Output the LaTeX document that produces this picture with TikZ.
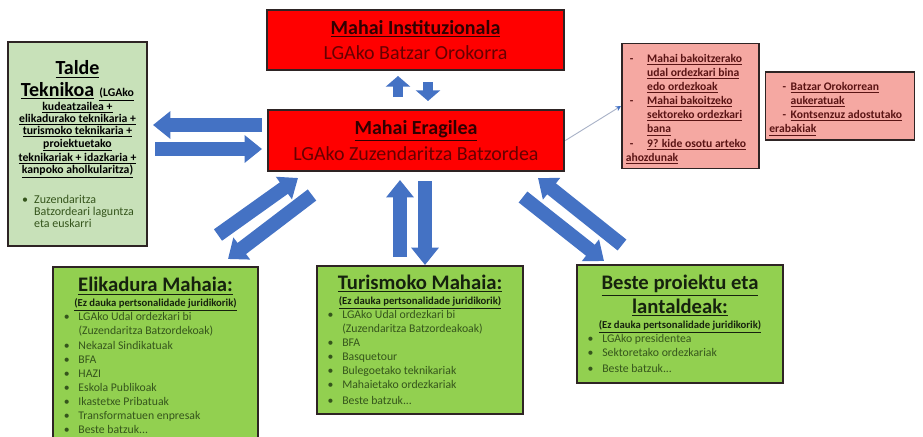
\documentclass[tikz,border=0pt]{standalone}
\usepackage{fontspec}
\setmainfont{Carlito}
\usetikzlibrary{arrows.meta}

\definecolor{boxred}{HTML}{FF0000}
\definecolor{boxline}{HTML}{2E2424}
\definecolor{redtitle}{HTML}{300000}
\definecolor{redsub}{HTML}{660000}
\definecolor{boxgreen}{HTML}{92D050}
\definecolor{lightgreen}{HTML}{C8E1B9}
\definecolor{boxpink}{HTML}{F5A8A2}
\definecolor{pinktext}{HTML}{5A1414}
\definecolor{itemgreen}{HTML}{35551C}
\definecolor{gtitle}{HTML}{16220E}
\definecolor{arrowblue}{HTML}{4472C4}
\definecolor{lineblue}{HTML}{AAB3C8}

% list lines
\newcommand{\normsp}{\spaceskip=0pt\xspaceskip=0pt\relax}
\newcommand{\gitem}[1]{\par\noindent\hangindent=15pt\hangafter=1\makebox[15pt][l]{\hspace{4pt}\textbullet}#1}
\newcommand{\pitem}[2][3pt]{\par\noindent\hangindent=16pt\hangafter=1\makebox[16pt][l]{\hspace{#1}-}#2}
\newcommand{\gtitle}{\fontsize{15.5}{18}\selectfont\bfseries}
\newcommand{\gsub}{\fontsize{8}{11}\selectfont\bfseries}
\newcommand{\gtext}{\fontsize{8.8}{10.6}\selectfont\color{itemgreen}}

\begin{document}
\begin{tikzpicture}[x=0.75pt,y=-0.75pt,
  redbox/.style={draw=boxline, line width=1.5pt, fill=boxred, align=center, text=redtitle,
    minimum width=222.5pt, minimum height=45.5pt, font=\fontsize{15}{19}\selectfont},
  greenbox/.style={draw=boxline, line width=1.2pt, fill=boxgreen, align=left, text=gtitle,
    text width=146.5pt, inner xsep=4pt, inner ysep=3pt},
  pinkbox/.style={draw=boxline, line width=1.2pt, fill=boxpink, align=left, text=pinktext,
    inner xsep=3pt, font=\fontsize{8.7}{10.6}\selectfont\bfseries},
  blockarrow/.style={draw=arrowblue, line width=10.5pt, -{Triangle[length=13pt,width=20pt]}},
  smallarrow/.style={draw=arrowblue, line width=7pt, -{Triangle[length=8pt,width=18pt]}}]

  \useasboundingbox (0,0) rectangle (923,436);
  \clip (0,0) rectangle (923,436);

  % red tables
  \node[redbox] (inst) at (415.5,40) {\textbf{\underline{Mahai Instituzionala}}\\\textcolor{redsub}{LGAko Batzar Orokorra}};
  \node[redbox] (erag) at (416,140.5) {\textbf{\underline{Mahai Eragilea}}\\\textcolor{redsub}{LGAko Zuzendaritza Batzordea}};

  % technical team
  \node[draw=boxline, line width=1.2pt, fill=lightgreen, text width=99pt, minimum height=153pt,
    align=center, inner xsep=2.5pt] (talde) at (77.5,144) {\normsp
    {\fontsize{15}{16}\selectfont\bfseries\underline{Talde}\par
     \underline{Teknikoa} {\fontsize{8.8}{9}\selectfont\underline{(LGAko}}\par}
    {\fontsize{8.8}{9.2}\selectfont\bfseries
     \underline{kudeatzailea +}\\\underline{elikadurako teknikaria +}\\\underline{turismoko teknikaria +}\\
     \underline{proiektuetako}\\\underline{teknikariak + idazkaria +}\\\underline{kanpoko aholkularitza)}\par}
    \vspace{12pt}
    {\raggedright\normsp\fontsize{9}{8.8}\selectfont\color{itemgreen}\noindent\hangindent=17pt\hangafter=1%
     \makebox[17pt][l]{\hspace{8pt}\textbullet}Zuzendaritza\newline Batzordeari laguntza\newline eta euskarri\par}};

  % members
  \node[pinkbox, text width=97pt, minimum height=93pt] (pink1) at (690.5,106) {\normsp
    \pitem{\underline{Mahai bakoitzerako}\newline\underline{udal ordezkari bina}\newline\underline{edo ordezkoak}}
    \pitem{\underline{Mahai bakoitzeko}\newline\underline{sektoreko ordezkari}\newline\underline{bana}}
    \pitem{\underline{9? kide osotu arteko}\newline\underline{ahozdunak}}};
  \node[pinkbox, text width=106pt, minimum height=49.5pt] (pink2) at (840,106) {\normsp
    \pitem[10pt]{\underline{Batzar Orokorrean}\newline\underline{aukeratuak}}
    \pitem[10pt]{\underline{Kontsenzuz adostutako}\newline\underline{erabakiak}}};

  % working tables
  \node[greenbox, anchor=north, text width=145.5pt, inner ysep=8pt] (elik) at (155.5,266) {\normsp
    {\centering\gtitle\underline{Elikadura Mahaia:}\par}
    {\centering\gsub\underline{(Ez dauka pertsonalidade juridikorik)}\par}
    \gtext
    \gitem{LGAko Udal ordezkari bi\newline(Zuzendaritza Batzordekoak)}
    \gitem{Nekazal Sindikatuak}
    \gitem{BFA}
    \gitem{HAZI}
    \gitem{Eskola Publikoak}
    \gitem{Ikastetxe Pribatuak}
    \gitem{Transformatuen enpresak}
    \gitem{Beste batzuk...}\par
    \vspace{20pt}};
  \node[greenbox, minimum height=111pt] (turis) at (420,340) {\normsp
    {\centering\gtitle\underline{Turismoko Mahaia:}\par}
    {\centering\gsub\underline{(Ez dauka pertsonalidade juridikorik)}\par}
    \gtext
    \gitem{LGAko Udal ordezkari bi\newline(Zuzendaritza Batzordeakoak)}
    \gitem{BFA}
    \gitem{Basquetour}
    \gitem{Bulegoetako teknikariak}
    \gitem{Mahaietako ordezkariak}
    \gitem{Beste batzuk...}};
  \node[greenbox, minimum height=88.5pt] (beste) at (680,324) {\normsp
    {\centering\gtitle\underline{Beste proiektu eta}\\\underline{lantaldeak:}\par}
    {\centering\gsub\underline{(Ez dauka pertsonalidade juridikorik)}\par}
    \gtext
    \gitem{LGAko presidentea}
    \gitem{Sektoretako ordezkariak}
    \gitem{Beste batzuk...}};

  % arrow ends
  \coordinate (ta) at (262,125);  \coordinate (tb) at (153,125);
  \coordinate (tc) at (155,149);  \coordinate (td) at (262,149);
  \coordinate (ia) at (398,97);   \coordinate (ib) at (398,76);
  \coordinate (ic) at (428,82);   \coordinate (id) at (428,101);
  \coordinate (ea) at (218,235);  \coordinate (eb) at (298,178);
  \coordinate (ec) at (312,195);  \coordinate (ed) at (228,259);
  \coordinate (ua) at (400,257);  \coordinate (ub) at (400,180);
  \coordinate (uc) at (425,181);  \coordinate (ud) at (425,265);
  \coordinate (ba) at (622,245);  \coordinate (bb) at (538,178);
  \coordinate (bc) at (523,197);  \coordinate (bd) at (604,261);

  \draw[blockarrow] (ta) -- (tb);
  \draw[blockarrow] (tc) -- (td);
  \draw[smallarrow] (ia) -- (ib);
  \draw[smallarrow] (ic) -- (id);
  \draw[blockarrow] (ea) -- (eb);
  \draw[blockarrow] (ec) -- (ed);
  \draw[blockarrow] (ua) -- (ub);
  \draw[blockarrow] (uc) -- (ud);
  \draw[blockarrow] (ba) -- (bb);
  \draw[blockarrow] (bc) -- (bd);

  \draw[lineblue, line width=0.7pt, -{Stealth[length=4pt,width=4pt,color=arrowblue]}] (erag.east) -- (pink1.west);
\end{tikzpicture}
\end{document}
